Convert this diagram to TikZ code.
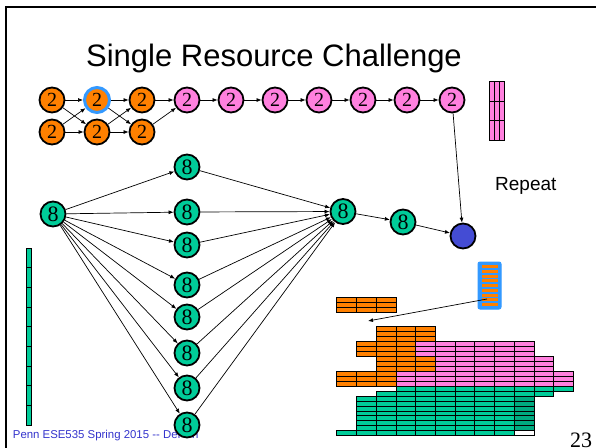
\documentclass[tikz,border=0pt]{standalone}
\usepackage{fontspec}
\setmainfont{Liberation Serif}
\newfontfamily\arialf{Liberation Sans}
\usetikzlibrary{arrows.meta}
\definecolor{org}{RGB}{255,128,0}
\definecolor{pnk}{RGB}{255,128,222}
\definecolor{grn}{RGB}{0,204,153}
\definecolor{grnd}{RGB}{0,170,128}
\definecolor{bnode}{RGB}{68,76,212}
\definecolor{ring}{RGB}{51,153,255}
\definecolor{ftblue}{RGB}{51,51,204}
\tikzset{
  nd/.style={circle, draw=black, line width=1.8pt, minimum size=25pt, inner sep=0pt},
  orgnd/.style={nd, fill=org, font=\fontsize{20}{20}\selectfont},
  pnknd/.style={nd, fill=pnk, font=\fontsize{20}{20}\selectfont},
  grnnd/.style={nd, fill=grn, font=\fontsize{22}{22}\selectfont},
  arr/.style={-{Latex[length=5pt,width=4pt]}, line width=0.7pt},
  cellst/.style={draw=black, line width=0.7pt}
}
\newcommand\cellblock[5]{%
  \foreach \c in {#1,...,#2}{\foreach \r in {#3,...,#4}{%
    \draw[cellst, fill=#5] ({336.7+\c*19.72},{326.7+\r*4.95}) rectangle ++(19.72,4.95);}}}
\begin{document}
\begin{tikzpicture}[x=1pt,y=-1pt]
\useasboundingbox (0,0) rectangle (596,447);
% slide frame
\draw[line width=2pt] (6,448) -- (6,7) -- (597,7);
% title
\node[anchor=base, inner sep=0, font=\arialf\fontsize{31}{31}\selectfont] (title) at (274,66.7) {Single Resource Challenge};
\node[anchor=base west, inner sep=0, font=\arialf\fontsize{19}{19}\selectfont] (rep) at (495,190) {Repeat};
\node[anchor=base west, inner sep=0, text=ftblue, font=\arialf\fontsize{11.4}{12}\selectfont] (foot) at (12.7,438.3) {Penn ESE535 Spring 2015 -{}- DeHon};
\node[anchor=base, inner sep=0, font=\fontsize{22}{22}\selectfont] (pg) at (581,447) {23};

% top graph
\node[orgnd] (o1) at (52,100) {2};
\node[orgnd, draw=ring, line width=3pt] (o2) at (97,100) {2};
\node[orgnd] (o3) at (142,100) {2};
\node[orgnd] (o4) at (52,132) {2};
\node[orgnd] (o5) at (97,132) {2};
\node[orgnd] (o6) at (142,132) {2};
\node[pnknd] (p1) at (187,100) {2};
\node[pnknd] (p2) at (231,100) {2};
\node[pnknd] (p3) at (275,100) {2};
\node[pnknd] (p4) at (319,100) {2};
\node[pnknd] (p5) at (363,100) {2};
\node[pnknd] (p6) at (407,100) {2};
\node[pnknd] (p7) at (452,100) {2};
\draw[arr] (o1) -- (o2);
\draw[arr] (o1) -- (o5);
\draw[arr] (o4) -- (o2);
\draw[arr] (o4) -- (o5);
\draw[arr] (o2) -- (o3);
\draw[arr] (o2) -- (o6);
\draw[arr] (o5) -- (o3);
\draw[arr] (o5) -- (o6);
\draw[arr] (o3) -- (p1);
\draw[arr] (o6) -- (p1);
\draw[arr] (p1) -- (p2);
\draw[arr] (p2) -- (p3);
\draw[arr] (p3) -- (p4);
\draw[arr] (p4) -- (p5);
\draw[arr] (p5) -- (p6);
\draw[arr] (p6) -- (p7);

% green graph
\node[grnnd] (g0) at (53,214) {8};
\foreach \i/\y in {1/167,2/212,3/245,4/285,5/317,6/353,7/388,8/425}{
  \node[grnnd] (g\i) at (187,\y) {8};
}
\node[grnnd] (m) at (343,211.5) {8};
\node[grnnd] (n) at (403,222) {8};
\node[nd, fill=bnode] (b) at (463,236) {};
\foreach \i in {1,...,8}{
  \draw[arr] (g0) -- (g\i);
  \draw[arr] (g\i) -- (m);
}
\draw[arr] (m) -- (n);
\draw[arr] (n) -- (b);
\draw[arr] (p7) -- (b);

% resource bars
\foreach \i in {0,...,8}{
  \draw[cellst, fill=grn] (26,{248+\i*19.67}) rectangle ++(5,19.67);
}
\foreach \i in {0,1,2}{\foreach \j in {0,1,2}{
  \draw[cellst, fill=pnk] ({489+\j*5},{81.7+\i*19.5}) rectangle ++(5,19.5);
}}

% blue box with stripes
\draw[rounded corners=2pt, draw=ring, fill=ring, line width=1pt] (478,262) rectangle (501,309);
\foreach \i in {0,...,8}{
  \fill[org] (482,{265+\i*4.75}) rectangle ++(16,3.1);
}
\coordinate (bs) at (487,299);
\coordinate (bt) at (368,321);
\draw[arr] (bs) -- (bt);

% schedule stack
\cellblock{0}{2}{-6}{-4}{org}
\cellblock{2}{4}{0}{2}{org}
\cellblock{1}{3}{3}{5}{org}
\cellblock{4}{9}{3}{5}{pnk}
\cellblock{2}{4}{6}{8}{org}
\cellblock{5}{10}{6}{8}{pnk}
\cellblock{0}{2}{9}{11}{org}
\cellblock{3}{11}{9}{11}{pnk}
\cellblock{3}{11}{12}{12}{grn}
\cellblock{2}{10}{13}{13}{grn}
\cellblock{1}{8}{14}{20}{grn}
\cellblock{9}{9}{14}{20}{grnd}
\cellblock{0}{8}{21}{21}{grn}
\cellblock{9}{9}{21}{21}{white}
\end{tikzpicture}
\end{document}
